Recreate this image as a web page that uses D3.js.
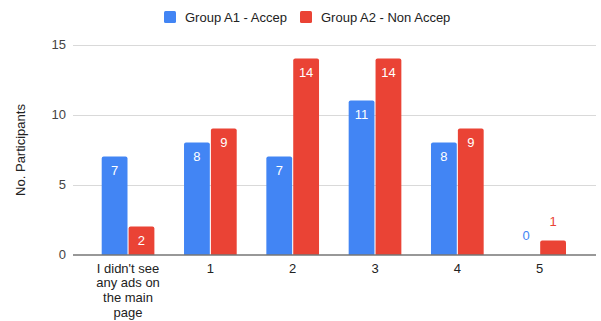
<!DOCTYPE html>
<html><head><meta charset="utf-8">
<script src="https://cdn.jsdelivr.net/npm/d3@7"></script>
<style>body{margin:0;background:#fff;}svg{display:block;font-family:Arial,"Liberation Sans",sans-serif;}</style>
</head><body>
<svg id="c" width="601" height="321"></svg>
<script>
const categories = ["I didn't see any ads on the main page","1","2","3","4","5"];
const seriesNames = ["Group A1 - Accep","Group A2 - Non Accep"];
const groupA1 = [7,8,7,11,8,0];
const groupA2 = [2,9,14,14,9,1];
const yTicks = [0,5,10,15];
const colors = ["#4285F4","#EA4335"];

const svg = d3.select("#c");
const gridLeft = 73, gridRight = 596;
const x = d3.scaleBand().domain(categories).range([101.7, 566]).paddingInner(0.36).paddingOuter(0);
const x1 = d3.scaleBand().domain([0,1]).range([0, x.bandwidth()]).paddingInner(0.04);
const y = d3.scaleLinear().domain([0,15]).range([254.5, 44.5]);

// gridlines
svg.append("g").selectAll("line").data(yTicks.filter(d=>d>0)).join("line")
  .attr("x1",gridLeft).attr("x2",gridRight)
  .attr("y1",d=>Math.round(y(d))+0.5).attr("y2",d=>Math.round(y(d))+0.5)
  .attr("stroke","#d9d9d9").attr("stroke-width",1);

// y labels
svg.append("g").selectAll("text").data(yTicks).join("text")
  .attr("x",66).attr("y",d=>y(d)).attr("dy","0.35em").attr("text-anchor","end")
  .attr("font-size",13).attr("fill","#444").text(d=>d);

// y title
svg.append("text").attr("transform","translate(20,150) rotate(-90)")
  .attr("text-anchor","middle").attr("dy","0.35em").attr("font-size",13).attr("fill","#222")
  .text("No. Participants");

const data = categories.map((c,i)=>({c, vals:[groupA1[i],groupA2[i]]}));
function barPath(x0,w,top,bottom,r){
  const h = bottom-top;
  if(h<=0) return "";
  r = Math.min(r,h,w/2);
  return `M${x0},${bottom}V${top+r}Q${x0},${top} ${x0+r},${top}H${x0+w-r}Q${x0+w},${top} ${x0+w},${top+r}V${bottom}Z`;
}
const g = svg.append("g").selectAll("g").data(data).join("g")
  .attr("transform",d=>`translate(${x(d.c)},0)`);
g.selectAll("path").data(d=>d.vals.map((v,k)=>({v,k}))).join("path")
  .attr("d",d=>barPath(x1(d.k),x1.bandwidth(),y(d.v),y(0),2))
  .attr("fill",d=>colors[d.k]);
g.selectAll("text").data(d=>d.vals.map((v,k)=>({v,k}))).join("text")
  .attr("x",d=>x1(d.k)+x1.bandwidth()/2)
  .attr("y",d=> (y(0)-y(d.v))>25 ? y(d.v)+14 : y(d.v)-19)
  .attr("dy","0.35em")
  .attr("text-anchor","middle").attr("font-size",13)
  .attr("fill",d=> (y(0)-y(d.v))>25 ? "#fff" : colors[d.k])
  .text(d=>d.v);

// baseline
svg.append("line").attr("x1",gridLeft).attr("x2",gridRight)
  .attr("y1",Math.round(y(0))).attr("y2",Math.round(y(0)))
  .attr("stroke","#333").attr("stroke-width",1.2);

// x labels with wrapping
const xLabelLines = [["I didn't see","any ads on","the main","page"],["1"],["2"],["3"],["4"],["5"]];
svg.append("g").selectAll("text").data(categories).join("text")
  .attr("x",d=>x(d)+x.bandwidth()/2).attr("y",268).attr("text-anchor","middle")
  .attr("font-size",13).attr("fill","#222")
  .each(function(d,i){
    const t = d3.select(this);
    xLabelLines[i].forEach((ln,j)=>{
      t.append("tspan").attr("x",x(d)+x.bandwidth()/2).attr("y",268+j*14.8).attr("dy","0.35em").text(ln);
    });
  });

// legend
const legendX = [164, 300];
const lg = svg.append("g").selectAll("g").data(seriesNames).join("g")
  .attr("transform",(d,i)=>`translate(${legendX[i]},11)`);
lg.append("rect").attr("width",12).attr("height",12).attr("rx",1.5).attr("fill",(d,i)=>colors[i]);
lg.append("text").attr("x",21).attr("y",6).attr("dy","0.35em").attr("font-size",13).attr("fill","#222").text(d=>d);
</script>
</body></html>
